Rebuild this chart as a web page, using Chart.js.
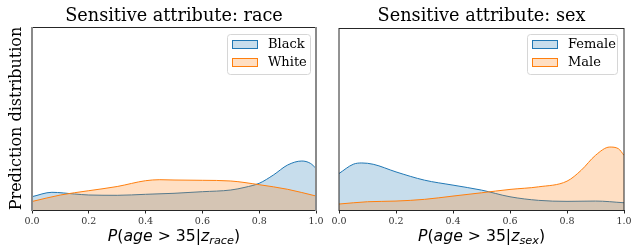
<!DOCTYPE html>
<html>
<head>
<meta charset="utf-8">
<script src="https://cdn.jsdelivr.net/npm/chart.js"></script>
<style>
  html, body { margin: 0; padding: 0; background: #fff; }
  #wrap { position: relative; width: 631px; height: 245px; }
  canvas { position: absolute; top: 0; }
</style>
</head>
<body>
<div id="wrap">
  <canvas id="raceChart" width="323" height="245" style="left:0"></canvas>
  <canvas id="sexChart" width="308" height="245" style="left:323px"></canvas>
</div>
<script>
// x ticks shared by both panels
const xTicks = [0, 0.2, 0.4, 0.6, 0.8, 1.0];

// race panel (density, arbitrary units)
const blackX = [0, 0.07, 0.15, 0.2, 0.3, 0.4, 0.5, 0.6, 0.7, 0.75, 0.8, 0.85, 0.9, 0.95, 0.98, 1.0];
const blackY = [13.3, 17.7, 16, 15, 14.7, 15.7, 16.7, 18.3, 20, 22.7, 26.7, 35, 45, 49, 46.7, 41.7];
const whiteX = [0, 0.1, 0.2, 0.3, 0.4, 0.45, 0.5, 0.6, 0.7, 0.8, 0.9, 1.0];
const whiteY = [8.5, 15, 19.3, 23.5, 29.3, 30.3, 30, 29.7, 29, 25.3, 20.7, 14];

// sex panel
const femaleX = [0, 0.05, 0.08, 0.12, 0.2, 0.3, 0.4, 0.5, 0.6, 0.7, 0.8, 0.9, 1.0];
const femaleY = [36.7, 46, 47.3, 46, 38.3, 30, 25, 20, 13.3, 9.7, 8.7, 9, 7.3];
const maleX = [0, 0.1, 0.2, 0.3, 0.4, 0.5, 0.6, 0.7, 0.8, 0.85, 0.9, 0.95, 0.98, 1.0];
const maleY = [6, 8.3, 9, 10.7, 14, 17.3, 20.7, 23.3, 29, 40, 55, 63.3, 61.7, 55];

const yMax = 183;

const BLUE = '#1f77b4';
const ORANGE = '#ff7f0e';
const BLUE_FILL = 'rgba(31, 119, 180, 0.25)';
const ORANGE_FILL = 'rgba(255, 127, 14, 0.25)';

const pts = (xs, ys) => xs.map((x, i) => ({ x: x, y: ys[i] }));

// draws title, spines, legend, y label and the mathtext-like x label
const decorPlugin = {
    id: 'decor',
    afterDraw(chart, args, opts) {
        const ctx = chart.ctx;
        const a = chart.chartArea;
        const cx = (a.left + a.right) / 2;
        ctx.save();

        // title
        ctx.fillStyle = '#000';
        ctx.font = '17.7px "DejaVu Serif"';
        ctx.textAlign = 'center';
        ctx.textBaseline = 'middle';
        ctx.fillText(opts.title, cx, 16);

        // spines
        ctx.lineWidth = 1;
        ctx.strokeStyle = '#262626';
        ctx.beginPath();
        ctx.moveTo(a.left, a.top + 0.5); ctx.lineTo(a.right, a.top + 0.5);
        ctx.moveTo(a.left, a.bottom + 0.5); ctx.lineTo(a.right, a.bottom + 0.5);
        ctx.stroke();
        ctx.lineWidth = opts.sideWidth;
        ctx.strokeStyle = opts.sideColor;
        ctx.beginPath();
        ctx.moveTo(a.left, a.top); ctx.lineTo(a.left, a.bottom + 1);
        ctx.moveTo(a.right, a.top); ctx.lineTo(a.right, a.bottom + 1);
        ctx.stroke();

        // y label
        if (opts.yLabel) {
            ctx.save();
            ctx.translate(17, (a.top + a.bottom) / 2);
            ctx.rotate(-Math.PI / 2);
            ctx.font = '16px "DejaVu Serif"';
            ctx.fillStyle = '#000';
            ctx.textAlign = 'center';
            ctx.textBaseline = 'middle';
            ctx.fillText(opts.yLabel, 0, 0);
            ctx.restore();
        }

        // legend
        const lg = opts.legend;
        ctx.beginPath();
        ctx.roundRect(lg.x + 0.5, lg.y + 0.5, lg.w, lg.h, 3);
        ctx.fillStyle = 'rgba(255,255,255,0.8)';
        ctx.fill();
        ctx.strokeStyle = '#d6d6d6';
        ctx.lineWidth = 1;
        ctx.stroke();
        ctx.font = '13px "DejaVu Serif"';
        ctx.textAlign = 'left';
        ctx.textBaseline = 'middle';
        chart.data.datasets.forEach((ds, i) => {
            const ry = lg.y + 6 + i * 18;
            ctx.fillStyle = '#fff';
            ctx.fillRect(lg.x + 5, ry, 26, 9);
            ctx.fillStyle = ds.backgroundColor;
            ctx.fillRect(lg.x + 5, ry, 26, 9);
            ctx.strokeStyle = ds.borderColor;
            ctx.strokeRect(lg.x + 5.5, ry + 0.5, 25, 8);
            ctx.fillStyle = '#000';
            ctx.fillText(ds.label, lg.x + 41, ry + 5);
        });

        // x label: P(age > 35|z_sub)
        const big = 15.7, small = 11.3;
        const parts = [
            { t: 'P', it: true }, { t: '(', it: false }, { t: 'age', it: true },
            { t: ' > ', it: false }, { t: '35|', it: false }, { t: 'z', it: true },
            { t: opts.sub, it: true, sub: true }, { t: ')', it: false }
        ];
        const fontOf = p => (p.it ? 'oblique ' : '') + (p.sub ? small : big) + 'px "DejaVu Sans"';
        let total = 0;
        parts.forEach(p => { ctx.font = fontOf(p); p.w = ctx.measureText(p.t).width; total += p.w; });
        let x = cx - total / 2;
        const base = 241;
        ctx.textAlign = 'left';
        ctx.textBaseline = 'alphabetic';
        ctx.fillStyle = '#000';
        parts.forEach(p => {
            ctx.font = fontOf(p);
            ctx.fillText(p.t, x, p.sub ? base + 3 : base);
            x += p.w;
        });

        ctx.restore();
    }
};

function makeChart(id, series, opts, pad) {
    return new Chart(document.getElementById(id), {
        type: 'line',
        data: {
            datasets: series.map(s => ({
                label: s.label,
                data: s.data,
                borderColor: s.color,
                backgroundColor: s.fill,
                borderWidth: 1,
                pointRadius: 0,
                fill: 'origin',
                cubicInterpolationMode: 'monotone',
                order: s.order
            }))
        },
        options: {
            responsive: false,
            animation: false,
            events: [],
            layout: { padding: pad },
            plugins: {
                legend: { display: false },
                tooltip: { enabled: false },
                decor: opts
            },
            scales: {
                x: {
                    type: 'linear',
                    min: 0,
                    max: 1,
                    afterBuildTicks: scale => { scale.ticks = xTicks.map(v => ({ value: v })); },
                    afterFit: scale => {
                        scale.height = 35;
                        scale.paddingLeft = 0;
                        scale.paddingRight = 0;
                    },
                    border: { display: false },
                    grid: {
                        drawOnChartArea: false,
                        drawTicks: true,
                        tickLength: 3.5,
                        color: '#262626'
                    },
                    ticks: {
                        padding: 2,
                        maxRotation: 0,
                        color: '#333',
                        font: { family: 'DejaVu Serif', size: 9.5 },
                        callback: v => v.toFixed(1)
                    }
                },
                y: {
                    display: false,
                    min: 0,
                    max: yMax
                }
            }
        },
        plugins: [decorPlugin]
    });
}

makeChart('raceChart', [
    { label: 'Black', data: pts(blackX, blackY), color: BLUE, fill: BLUE_FILL, order: 2 },
    { label: 'White', data: pts(whiteX, whiteY), color: ORANGE, fill: ORANGE_FILL, order: 1 }
], {
    title: 'Sensitive attribute: race',
    yLabel: 'Prediction distribution',
    sub: 'race',
    sideColor: '#8a8a8a',
    sideWidth: 2,
    legend: { x: 227, y: 34, w: 83, h: 40 }
}, { left: 32, right: 7, top: 27, bottom: 0 });

makeChart('sexChart', [
    { label: 'Female', data: pts(femaleX, femaleY), color: BLUE, fill: BLUE_FILL, order: 2 },
    { label: 'Male', data: pts(maleX, maleY), color: ORANGE, fill: ORANGE_FILL, order: 1 }
], {
    title: 'Sensitive attribute: sex',
    yLabel: null,
    sub: 'sex',
    sideColor: '#262626',
    sideWidth: 1,
    legend: { x: 204, y: 34, w: 90, h: 40 }
}, { left: 16, right: 7, top: 28, bottom: 0 });
</script>
</body>
</html>
